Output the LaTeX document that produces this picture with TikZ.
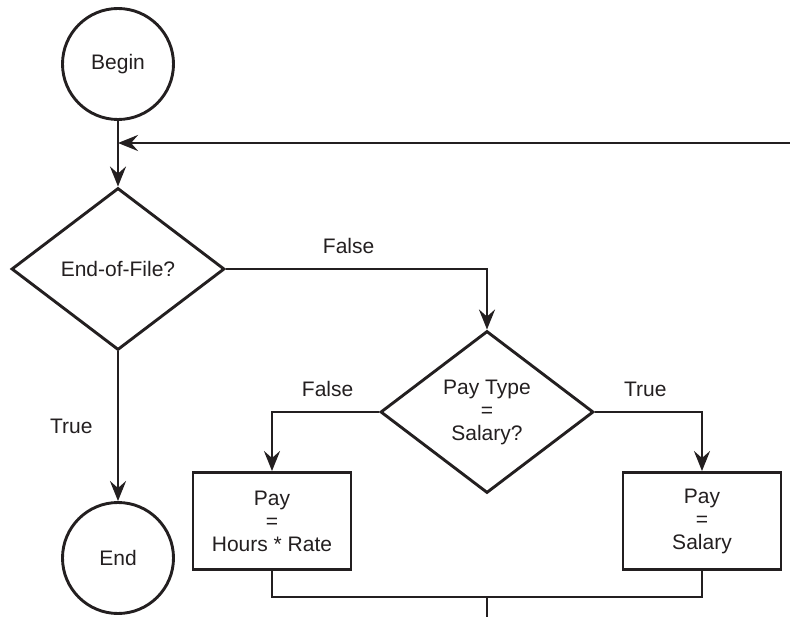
\documentclass[tikz,border=0pt]{standalone}
\usepackage{fontspec}
\setmainfont{Liberation Sans}
\usetikzlibrary{shapes.geometric,arrows.meta}
\definecolor{ink}{RGB}{35,31,32}
\tikzset{
    chart/.style={draw=ink, line width=2.9pt, text=ink, inner sep=0pt,
        font=\fontsize{21}{23}\selectfont, align=center},
    terminal/.style={chart, circle, minimum size=111pt},
    decision/.style={chart, diamond, minimum width=213pt, minimum height=162pt},
    process/.style={chart, rectangle, minimum width=158pt, minimum height=97pt},
    flow/.style={draw=ink, line width=2.9pt, -{Stealth[length=20pt,width=16pt,inset=7pt]}},
    wire/.style={draw=ink, line width=2.9pt},
    branch/.style={text=ink, inner sep=0pt, font=\fontsize{21}{23}\selectfont}
}
\begin{document}
\begin{tikzpicture}[x=1pt, y=-1pt]
    \useasboundingbox (0, 0) rectangle (790, 617);
    \node[terminal] (begin) at (118, 64) {Begin};
    \node[decision] (eof) at (118, 269) {End-of-File?};
    \node[terminal] (end) at (118, 558) {End};
    \node[decision] (paytype) at (487, 412) {Pay Type\\=\\Salary?};
    \node[process] (hourly) at (272, 521) {Pay\\=\\Hours * Rate};
    \node[process] (salaried) at (702, 521) {Pay\\=\\Salary};
    \coordinate (loopin) at (790, 143);
    \coordinate (join) at (487, 597);
    \coordinate (exit) at (487, 617);
    % main line
    \draw[flow] (begin) -- (eof);
    \draw[flow] (loopin) -- (loopin -| begin.south);
    \draw[flow] (eof) -- (end) node[branch, midway, left=24pt] {True};
    \draw[flow] (eof.east) -| (paytype.north) node[branch, pos=0.235, above=14pt] {False};
    % pay type branches
    \draw[flow] (paytype.west) -| (hourly.north) node[branch, pos=0.24, above=14pt] {False};
    \draw[flow] (paytype.east) -| (salaried.north) node[branch, pos=0.235, above=14pt] {True};
    \draw[wire] (hourly.south) |- (join) -| (salaried.south);
    \draw[wire] (join) -- (exit);
\end{tikzpicture}
\end{document}
